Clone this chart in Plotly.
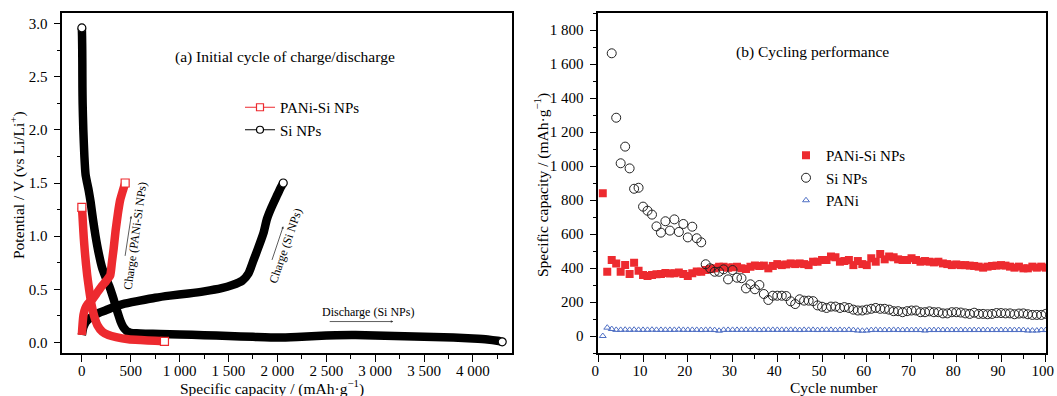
import plotly.graph_objects as go

# ---------------- Data: panel (a) initial charge/discharge ----------------
si_dis_cap = [0, 2, 4, 5, 6, 8, 15, 26, 38, 50, 70, 90, 115, 140, 170, 205, 240, 280, 310, 340,
              370, 395, 420, 445, 470, 500, 560, 650, 800, 1000, 1250, 1500, 1750, 2000, 2200,
              2400, 2600, 2800, 3000, 3200, 3400, 3600, 3800, 4000, 4150, 4250, 4300]
si_dis_v = [2.96, 2.88, 2.75, 2.6, 2.4, 2.25, 2.0, 1.75, 1.58, 1.52, 1.43, 1.32, 1.15, 1.0, 0.85,
            0.71, 0.62, 0.53, 0.45, 0.36, 0.27, 0.2, 0.15, 0.12, 0.1, 0.09, 0.085, 0.082, 0.08,
            0.075, 0.068, 0.06, 0.052, 0.045, 0.05, 0.06, 0.068, 0.07, 0.065, 0.06, 0.055, 0.05,
            0.045, 0.037, 0.028, 0.015, 0.005]

si_chg_cap = [0, 15, 40, 70, 120, 180, 240, 320, 420, 580, 750, 900, 1090, 1250, 1430, 1540,
              1640, 1705, 1755, 1800, 1858, 1893, 1940, 1990, 2030, 2060]
si_chg_v = [0.07, 0.14, 0.19, 0.22, 0.25, 0.28, 0.3, 0.33, 0.36, 0.39, 0.42, 0.44, 0.46, 0.48,
            0.51, 0.54, 0.58, 0.65, 0.77, 0.88, 1.03, 1.16, 1.27, 1.37, 1.45, 1.5]

pani_dis_cap = [0, 3, 6, 12, 20, 30, 42, 55, 68, 82, 100, 125, 160, 210, 272, 350, 477, 600, 750, 845]
pani_dis_v = [1.27, 1.24, 1.2, 1.1, 0.98, 0.86, 0.74, 0.63, 0.54, 0.45, 0.35, 0.25, 0.16, 0.1,
              0.07, 0.05, 0.03, 0.022, 0.015, 0.01]

pani_chg_cap = [0, 8, 17, 35, 60, 102, 150, 204, 250, 290, 307, 325, 345, 370, 392, 420, 443]
pani_chg_v = [0.07, 0.18, 0.26, 0.32, 0.36, 0.4, 0.46, 0.53, 0.58, 0.63, 0.75, 0.88, 1.05, 1.22,
              1.34, 1.43, 1.5]

# ---------------- Data: panel (b) cycling performance ----------------
cycles = list(range(1, 101))
pani_si_cap = [840, 378, 447, 427, 378, 417, 365, 431, 384, 359,
               353, 359, 363, 365, 371, 367, 369, 373, 365, 353,
               369, 380, 378, 388, 394, 398, 408, 408, 402, 404,
               408, 398, 394, 408, 414, 412, 414, 398, 412, 423,
               417, 421, 427, 423, 427, 423, 417, 437, 437, 447,
               447, 467, 463, 437, 441, 447, 417, 441, 423, 417,
               457, 437, 482, 451, 467, 463, 451, 447, 447, 457,
               447, 437, 441, 437, 433, 437, 427, 423, 417, 421,
               417, 417, 414, 412, 408, 402, 408, 412, 414, 417,
               414, 408, 402, 408, 398, 398, 408, 402, 408, 402]
si_cap = [None, None, 1663, 1284, 1016, 1114, 986, 866, 872, 761,
          737, 714, 645, 608, 675, 620, 686, 612, 659, 580,
          643, 575, 551, 422, 398, 378, 378, 392, 333, 388,
          343, 340, 280, 304, 275, 300, 247, 212, 237, 237,
          237, 235, 204, 188, 216, 208, 208, 205, 180, 172,
          165, 173, 173, 165, 170, 165, 155, 150, 150, 155,
          160, 165, 160, 160, 155, 146, 146, 140, 146, 150,
          150, 140, 140, 145, 140, 140, 133, 133, 140, 140,
          138, 133, 130, 137, 130, 130, 128, 130, 135, 135,
          133, 133, 128, 132, 133, 128, 124, 124, 124, 130]
pani_cap = [0, 49, 41, 36, 36, 37, 36, 37, 36, 36,
            36, 37, 36, 36, 36, 36, 36, 37, 36, 36,
            36, 36, 35, 36, 36, 35, 31, 36, 36, 36,
            36, 36, 36, 36, 36, 35, 36, 36, 36, 36,
            36, 36, 36, 36, 35, 36, 36, 36, 35, 36,
            36, 36, 35, 36, 35, 36, 35, 32, 31, 32,
            35, 36, 35, 35, 35, 36, 35, 35, 35, 35,
            35, 35, 32, 35, 35, 35, 35, 35, 35, 35,
            35, 35, 35, 35, 35, 35, 35, 35, 35, 35,
            35, 35, 35, 35, 35, 32, 32, 32, 35, 35]

RED = "#ed2a2f"
BLACK = "#000000"
BLUE = "#4f6fc4"
FONT = "Liberation Serif, Times New Roman, serif"
W, H = 1057, 396
MT, MB = 13, 43
PH = H - MT - MB

def py(y):  # pixel row -> paper y
    return (H - MB - y) / PH

fig = go.Figure()

# ---- panel (a) thick curves ----
for cx, cy, col in [(si_dis_cap, si_dis_v, BLACK), (si_chg_cap, si_chg_v, BLACK),
                    (pani_dis_cap, pani_dis_v, RED), (pani_chg_cap, pani_chg_v, RED)]:
    fig.add_trace(go.Scatter(x=cx, y=cy, mode="lines",
                             line=dict(color=col, width=8.5, shape="spline", smoothing=0.5),
                             showlegend=False, xaxis="x", yaxis="y", hoverinfo="skip"))

# end markers
fig.add_trace(go.Scatter(x=[si_dis_cap[0], si_dis_cap[-1], si_chg_cap[-1]],
                         y=[si_dis_v[0], si_dis_v[-1], si_chg_v[-1]], mode="markers",
                         marker=dict(symbol="circle", size=8, color="white",
                                     line=dict(color=BLACK, width=1.2)),
                         showlegend=False, xaxis="x", yaxis="y"))
fig.add_trace(go.Scatter(x=[pani_dis_cap[0], pani_dis_cap[-1], pani_chg_cap[-1]],
                         y=[pani_dis_v[0], pani_dis_v[-1], pani_chg_v[-1]], mode="markers",
                         marker=dict(symbol="square", size=8, color="white",
                                     line=dict(color=RED, width=1.2)),
                         showlegend=False, xaxis="x", yaxis="y"))

# legend entries for panel (a)
fig.add_trace(go.Scatter(x=[None], y=[None], mode="lines+markers", name="PANi-Si NPs",
                         line=dict(color=RED, width=1),
                         marker=dict(symbol="square", size=7, color="white", line=dict(color=RED, width=1.2)),
                         legend="legend", xaxis="x", yaxis="y"))
fig.add_trace(go.Scatter(x=[None], y=[None], mode="lines+markers", name="Si NPs",
                         line=dict(color=BLACK, width=1),
                         marker=dict(symbol="circle", size=7, color="white", line=dict(color=BLACK, width=1.2)),
                         legend="legend", xaxis="x", yaxis="y"))

# ---- panel (b) ----
fig.add_trace(go.Scatter(x=cycles, y=pani_si_cap, mode="markers", name="PANi-Si NPs",
                         marker=dict(symbol="square", size=8, color=RED),
                         legend="legend2", xaxis="x2", yaxis="y2"))
fig.add_trace(go.Scatter(x=cycles, y=si_cap, mode="markers", name="Si NPs",
                         marker=dict(symbol="circle-open", size=9, color="#222", line=dict(width=1)),
                         legend="legend2", xaxis="x2", yaxis="y2"))
fig.add_trace(go.Scatter(x=cycles, y=pani_cap, mode="markers", name="PANi",
                         marker=dict(symbol="triangle-up-open", size=6, color=BLUE, line=dict(width=1)),
                         legend="legend2", xaxis="x2", yaxis="y2"))

axis_common = dict(showline=True, linecolor="black", linewidth=1.5, mirror=True,
                   ticks="outside", ticklen=7, tickwidth=1.2, tickcolor="black",
                   showgrid=False, zeroline=False, automargin=False,
                   tickfont=dict(family=FONT, size=15, color="black"))

fig.update_layout(
    width=W, height=H,
    margin=dict(l=0, r=0, t=MT, b=MB, autoexpand=False),
    paper_bgcolor="white", plot_bgcolor="white",
    separators=". ",
    font=dict(family=FONT, size=15, color="black"),
    xaxis=dict(domain=[62.3 / W, 512 / W], range=[-200, 4400], anchor="y",
               dtick=500, tick0=0, tickformat=",d", ticklabelstandoff=-4,
               minor=dict(ticks="outside", ticklen=4, tickwidth=1, tickcolor="black", dtick=250, tick0=0),
               **axis_common),
    yaxis=dict(domain=[0, 1], range=[-0.1, 3.1], anchor="x",
               dtick=0.5, tick0=0, tickformat=".1f", ticklabelstandoff=3,
               minor=dict(ticks="outside", ticklen=4, tickwidth=1, tickcolor="black", dtick=0.25, tick0=0),
               **axis_common),
    xaxis2=dict(domain=[598.3 / W, 1046 / W], range=[0, 100.05], anchor="y2",
                dtick=10, tick0=0, ticklabelstandoff=-4, ticklabelshift=-3,
                minor=dict(ticks="outside", ticklen=4, tickwidth=1, tickcolor="black", dtick=5, tick0=0),
                **axis_common),
    yaxis2=dict(domain=[0, 1], range=[-100, 1900], anchor="x2",
                dtick=200, tick0=0, tickformat=",d", ticklabelstandoff=3,
                minor=dict(ticks="outside", ticklen=4, tickwidth=1, tickcolor="black", dtick=100, tick0=0),
                **axis_common),
    legend=dict(x=240 / W, y=py(91), xanchor="left", yanchor="top",
                bgcolor="rgba(0,0,0,0)", font=dict(family=FONT, size=15), itemwidth=30,
                tracegroupgap=0),
    legend2=dict(x=786 / W, y=py(139), xanchor="left", yanchor="top",
                 bgcolor="rgba(0,0,0,0)", font=dict(family=FONT, size=15), itemwidth=30,
                 tracegroupgap=0),
)

ann = []
# panel titles
ann.append(dict(text="(a) Initial cycle of charge/discharge", x=285 / W, y=py(57), xref="paper", yref="paper",
                showarrow=False, font=dict(family=FONT, size=15.5), xanchor="center", yanchor="middle"))
ann.append(dict(text="(b) Cycling performance", x=812 / W, y=py(52), xref="paper", yref="paper",
                showarrow=False, font=dict(family=FONT, size=15.5), xanchor="center", yanchor="middle"))
# axis titles
ann.append(dict(text="Specific capacity / (mAh·g<sup>−1</sup>)", x=272 / W, y=py(387), xref="paper", yref="paper",
                showarrow=False, font=dict(family=FONT, size=15.5), xanchor="center", yanchor="middle"))
ann.append(dict(text="Cycle number", x=834 / W, y=py(387), xref="paper", yref="paper",
                showarrow=False, font=dict(family=FONT, size=15.5), xanchor="center", yanchor="middle"))
ann.append(dict(text="Potential / V (vs Li/Li<sup>+</sup>)", x=17 / W, y=py(185), xref="paper", yref="paper",
                showarrow=False, font=dict(family=FONT, size=15.5), textangle=-90, xanchor="center", yanchor="middle"))
ann.append(dict(text="Specific capacity / (mAh·g<sup>−1</sup>)", x=541 / W, y=py(185), xref="paper", yref="paper",
                showarrow=False, font=dict(family=FONT, size=15.5), textangle=-90, xanchor="center", yanchor="middle"))
# in-plot labels with arrows (panel a)
lab_font = dict(family=FONT, size=12, color="black")
ann.append(dict(text="Charge (PANi-Si NPs)", x=545, y=1.0, xref="x", yref="y", showarrow=False,
                textangle=-82, font=lab_font))
ann.append(dict(text="", x=505, y=1.19, ax=440, ay=0.80, xref="x", yref="y", axref="x", ayref="y",
                showarrow=True, arrowhead=2, arrowsize=0.6, arrowwidth=0.8, arrowcolor="#333"))
ann.append(dict(text="Charge (Si NPs)", x=2080, y=0.91, xref="x", yref="y", showarrow=False,
                textangle=-71, font=lab_font))
ann.append(dict(text="", x=2060, y=1.092, ax=1940, ay=0.762, xref="x", yref="y", axref="x", ayref="y",
                showarrow=True, arrowhead=2, arrowsize=0.6, arrowwidth=0.8, arrowcolor="#333"))
ann.append(dict(text="Discharge (Si NPs)", x=2929, y=0.288, xref="x", yref="y", showarrow=False,
                font=lab_font))
ann.append(dict(text="", x=3185, y=0.196, ax=2520, ay=0.196, xref="x", yref="y", axref="x", ayref="y",
                showarrow=True, arrowhead=2, arrowsize=0.6, arrowwidth=0.8, arrowcolor="#333"))
fig.update_layout(annotations=ann)

fig.write_html("out.html")
